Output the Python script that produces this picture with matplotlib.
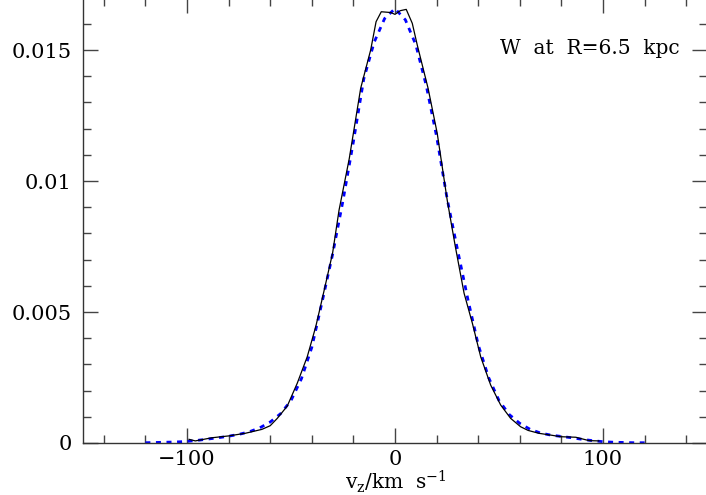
import matplotlib
matplotlib.use("Agg")
import matplotlib.pyplot as plt
from matplotlib.ticker import MultipleLocator, FuncFormatter

plt.rcParams['font.family'] = ['DejaVu Serif']
plt.rcParams['mathtext.fontset'] = 'dejavuserif'

# Solid black curve (data histogram)
vz_data = [-99, -96, -88, -80, -72, -64, -60, -56.6, -51.8, -47, -42.2, -38.1, -35,
           -30, -26.9, -22, -16.5, -11.7, -9.1, -6.6, -2, 0, 2.5, 5.4, 8.3, 10.7,
           15.9, 20.3, 25.1, 29, 33.2, 37.2, 41.2, 46, 50.8, 55.6, 60.4, 64, 69.2,
           75, 79.7, 86.9, 93.3, 98]
f_data = [0.14, 0.08, 0.20, 0.27, 0.37, 0.52, 0.66, 0.94, 1.41, 2.28, 3.29, 4.44, 5.50,
          7.25, 8.89, 10.85, 13.54, 15.00, 16.08, 16.46, 16.43, 16.36, 16.50, 16.55, 16.02, 15.19,
          13.54, 11.82, 9.27, 7.50, 5.72, 4.57, 3.29, 2.21, 1.45, 0.94, 0.62, 0.48, 0.37,
          0.30, 0.24, 0.22, 0.09, 0.08]

# Dotted blue curve (model)
vz_model = [-120, -115, -110, -105, -100, -95, -90, -85, -80, -75, -70, -65, -60, -55,
            -50, -45, -40, -35, -30, -25, -20, -15, -10, -5, 0, 5, 10, 15, 20, 25, 30,
            35, 40, 45, 50, 55, 60, 65, 70, 75, 80, 85, 90, 95, 100, 105, 110, 115, 120]
f_model = [0.01, 0.02, 0.03, 0.04, 0.06, 0.10, 0.15, 0.20, 0.26, 0.33, 0.43, 0.58, 0.80, 1.12,
           1.62, 2.45, 3.65, 5.40, 7.20, 9.25, 11.5, 13.9, 15.3, 16.2, 16.58, 16.15, 15.2,
           13.65, 11.7, 9.35, 7.4, 5.5, 3.75, 2.5, 1.62, 1.08, 0.75, 0.52, 0.38, 0.30, 0.25,
           0.20, 0.14, 0.09, 0.05, 0.03, 0.02, 0.01, 0.01]

label_text = "W  at  R=6.5  kpc"
xlabel_text = r"v$_{\rm z}$/km  s$^{-1}$"

W, H = 706, 495
fig = plt.figure(figsize=(W / 100, H / 100), dpi=100)
left, right, bottom, top = 83, 707, 443, -2.4
ax = fig.add_axes([left / W, (H - bottom) / H, (right - left) / W, (bottom - top) / H])

ax.plot(vz_data, [v * 1e-3 for v in f_data], color='black', lw=0.9, zorder=3)
ax.plot(vz_model, [v * 1e-3 for v in f_model], color='#0000ff', lw=2.0,
        linestyle=(0, (1.8, 2.0)), zorder=2)

ax.set_xlim(-150, 150)
ax.set_ylim(0, 0.017)
ax.xaxis.set_major_locator(MultipleLocator(100))
ax.xaxis.set_minor_locator(MultipleLocator(20))
ax.yaxis.set_major_locator(MultipleLocator(0.005))
ax.yaxis.set_minor_locator(MultipleLocator(0.001))
ax.yaxis.set_major_formatter(FuncFormatter(lambda v, p: '%g' % round(v, 6)))

for s in ax.spines.values():
    s.set_color('#333333')
    s.set_linewidth(1.0)

ax.tick_params(which='both', direction='in', top=True, right=True, color='#444444')
ax.tick_params(which='major', length=10.5, width=1.0, labelsize=15)
ax.tick_params(which='minor', length=5.5, width=1.0)
ax.tick_params(axis='x', which='major', pad=5)
ax.tick_params(axis='y', which='major', pad=8)

fig.text(680 / W, 1 - 48 / H, label_text, ha='right', va='center', fontsize=14.5)
fig.text(396 / W, 1 - 489 / H, xlabel_text, ha='center', va='baseline', fontsize=14.5)

fig.savefig('out.png', dpi=100)
